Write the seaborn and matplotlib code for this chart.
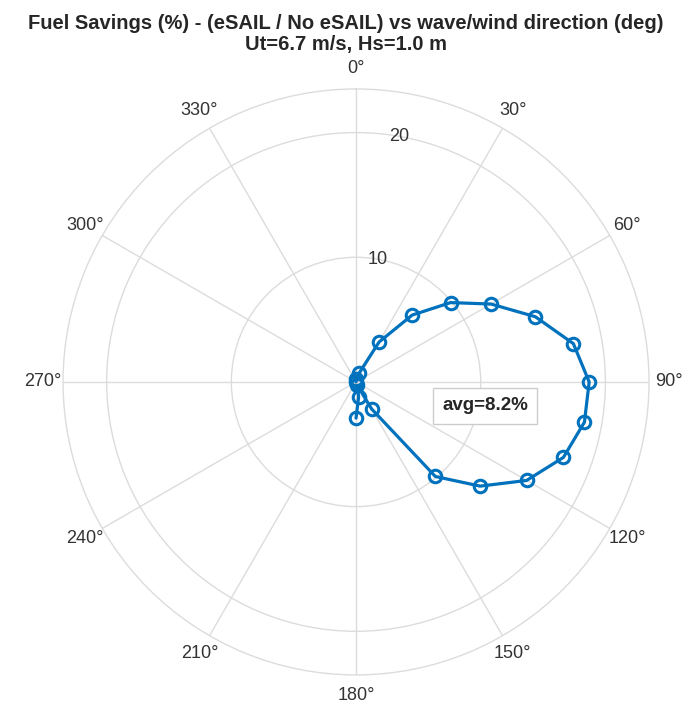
import numpy as np
import pandas as pd
import matplotlib
matplotlib.use("Agg")
import matplotlib.pyplot as plt
import seaborn as sns

# ---- data ----
direction_deg = [0, 10, 20, 30, 40, 50, 60, 70, 80, 90, 100, 110, 120, 130, 140, 150, 160, 170, 180]
fuel_savings = [0.0, 0.2, 0.8, 3.7, 7.0, 9.9, 12.5, 15.3, 17.7, 18.7, 18.6, 17.7, 15.8, 13.0, 9.9, 2.5, 0.3, 1.2, 2.9]
avg_label = "avg=8.2%"
title_lines = ["Fuel Savings (%) - (eSAIL / No eSAIL) vs wave/wind direction (deg)",
               "Ut=6.7 m/s, Hs=1.0 m"]
theta_ticks = list(range(0, 360, 30))
theta_ticklabels = [f"{t}°" for t in theta_ticks]
r_ticks = [10, 20]

sns.set_theme(style="whitegrid")
plt.rcParams['font.family'] = ['Liberation Sans', 'DejaVu Sans']

df = pd.DataFrame({"theta": np.deg2rad(direction_deg), "r": fuel_savings})

fig = plt.figure(figsize=(6.92, 7.06), dpi=100)
ax = fig.add_axes([0.091, 0.044, 0.847, 0.830], projection="polar")
ax.set_facecolor("white")

blue = "#0072BD"
sns.lineplot(data=df, x="theta", y="r", ax=ax, sort=False, color=blue,
             linewidth=2.3, marker="o", markersize=9, markerfacecolor="none",
             markeredgecolor=blue, markeredgewidth=2.2)

text_color = "#333333"
ax.set_theta_zero_location("N")
ax.set_theta_direction(-1)
ax.set_ylim(0, 23.5)
ax.set_xticks(np.deg2rad(theta_ticks))
ax.set_xticklabels(theta_ticklabels, fontsize=13, color=text_color)
ax.set_yticks(r_ticks)
ax.set_yticklabels([])
for rv in r_ticks:
    ax.text(np.deg2rad(10), rv, str(rv), ha="center", va="center",
            fontsize=13, color=text_color)
ax.tick_params(axis="x", pad=1.5)
ax.grid(True, color="#dcdcdc", linewidth=1.0)
ax.spines["polar"].set_color("#dcdcdc")
ax.spines["polar"].set_linewidth(1.0)
ax.set_xlabel("")
ax.set_ylabel("")

ax.text(0.72, 0.459, avg_label, transform=ax.transAxes, ha="center", va="center",
        fontsize=13.5, fontweight="bold", color="#262626",
        bbox=dict(boxstyle="square,pad=0.5", facecolor="white", edgecolor="#cccccc", linewidth=1.0))

fig.text(0.5, 0.967, title_lines[0], ha="center", va="center", fontsize=14.5, fontweight="bold", color="#262626")
fig.text(0.5, 0.937, title_lines[1], ha="center", va="center", fontsize=14.5, fontweight="bold", color="#262626")

fig.savefig("out.png", dpi=100, facecolor="white")
